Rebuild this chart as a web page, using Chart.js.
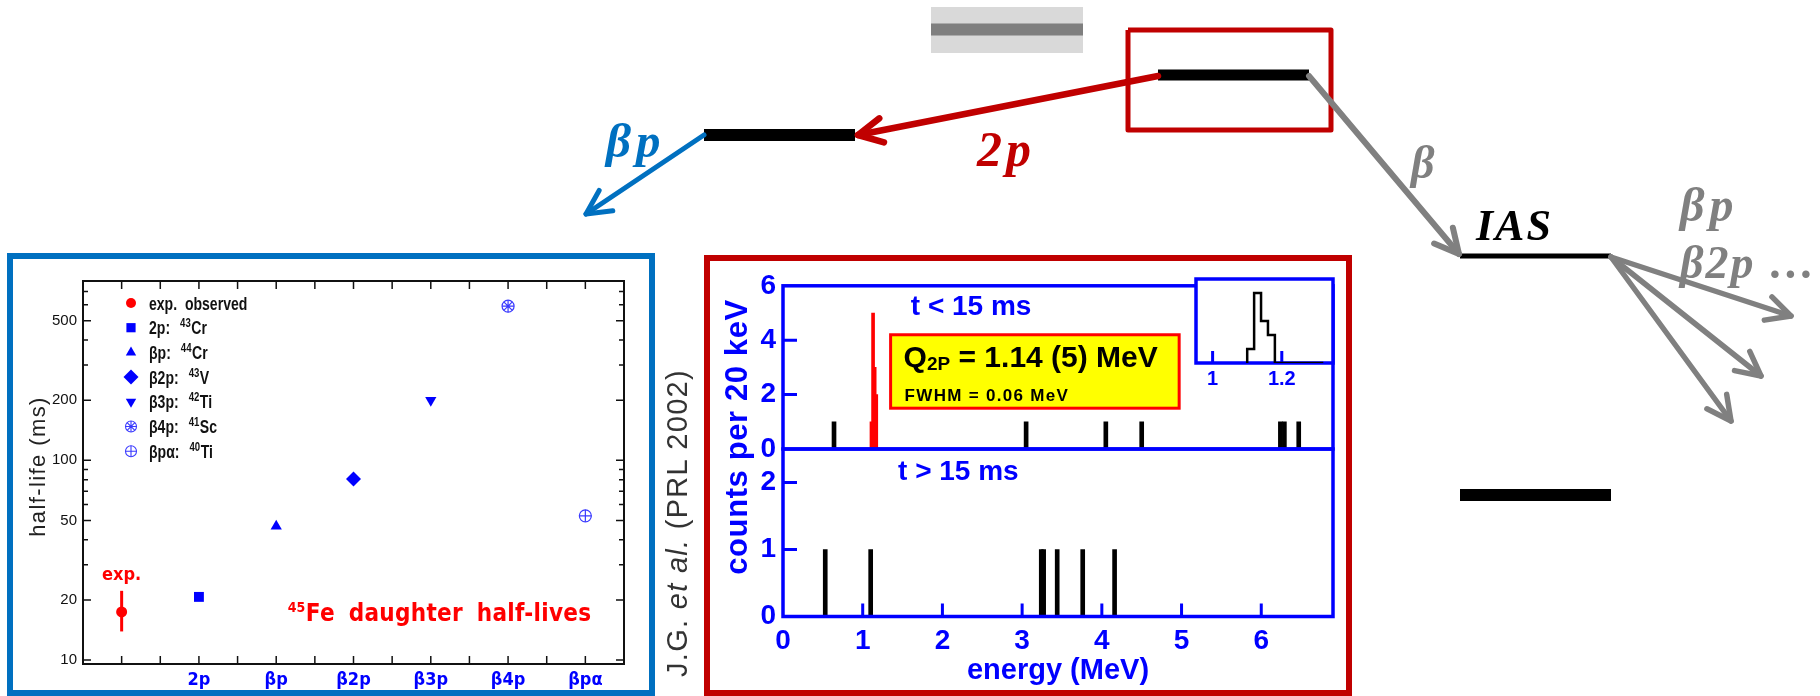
<!DOCTYPE html>
<html><head><meta charset="utf-8">
<title>45Fe two-proton decay</title>
<script src="https://cdn.jsdelivr.net/npm/chart.js@4.4.1/dist/chart.umd.min.js"></script>
<style>
html,body{margin:0;padding:0;background:#fff}
body{position:relative;width:1820px;height:696px;overflow:hidden;font-family:'Liberation Sans',Arial,sans-serif}
canvas{position:absolute;display:block}
.frame{position:absolute;box-sizing:border-box}
.rot{position:absolute;white-space:nowrap;transform:translate(-50%,-50%) rotate(-90deg);line-height:1}
</style></head><body>
<canvas id="scheme" width="1820" height="696" style="left:0;top:0"></canvas>
<div class="frame" style="left:7px;top:253px;width:648px;height:443px;border:6px solid #0070c0"></div>
<div class="frame" style="left:704px;top:255px;width:648px;height:441px;border:6px solid #c00000"></div>
<div class="rot" style="left:677px;top:523px;font-size:29px;letter-spacing:1.3px;color:#333">J.G. <i>et al.</i> (PRL 2002)</div>
<div class="rot" style="left:736px;top:437px;font-size:31px;letter-spacing:0.6px;font-weight:bold;color:#0000ff">counts per 20 keV</div>
<canvas id="halfLife" width="636" height="431" style="left:13px;top:259px"></canvas>
<canvas id="specTop" width="635" height="220" style="left:711px;top:262px"></canvas>
<canvas id="specBottom" width="635" height="270" style="left:711px;top:420px"></canvas>
<canvas id="inset" width="166" height="125" style="left:1180px;top:270px"></canvas>
<script>
// ================= DATA =================
// Left panel: 45Fe daughter half-lives (ms)
const hlCategories = ['exp.', '2p', 'βp', 'β2p', 'β3p', 'β4p', 'βpα'];
const hlValues = [17.4, 20.7, 46.8, 80.7, 200, 591, 52.7];
const hlExpError = [13.9, 22.2];
const hlYTickLabels = [10, 20, 50, 100, 200, 500];
const hlYMinorTicks = [30, 40, 60, 70, 80, 90, 300, 400, 600, 700];
const hlLegendPrefix = ['exp.  observed', '2p:', 'βp:', 'β2p:', 'β3p:', 'β4p:', 'βpα:'];
const hlLegendMass = ['', '43', '44', '43', '42', '41', '40'];
const hlLegendElement = ['', 'Cr', 'Cr', 'V', 'Ti', 'Sc', 'Ti'];

// Middle panel: energy spectra (counts per 20 keV)
const peakBins = [1.10, 1.12, 1.14, 1.16];
const peakCounts = [1, 5, 3, 2];
const earlyEnergies = [0.64, 3.05, 4.05, 4.50, 6.24, 6.29, 6.47];
const earlyCounts = [1, 1, 1, 1, 1, 1, 1];
const lateEnergies = [0.53, 1.10, 3.24, 3.27, 3.44, 3.76, 4.16];
const lateCounts = [1, 1, 1, 1, 1, 1, 1];
const energyTicks = [0, 1, 2, 3, 4, 5, 6];
const earlyCountTicks = [0, 2, 4, 6];
const lateCountTicks = [0, 1, 2];
const insetTicks = [1, 1.2];
const insetRangeEnd = 1.32;

// Decay scheme (pixel-space diagram)
const levelX1 = [704, 1158, 1460, 1460];
const levelX2 = [855, 1309, 1611, 1611];
const levelY = [135, 75, 256, 495];
const arrowFromX = [1158, 704, 1309, 1611, 1611, 1611];
const arrowFromY = [76, 135, 76, 257, 257, 257];
const arrowToX = [858, 586, 1459, 1791, 1761, 1731];
const arrowToY = [135, 214, 254, 316, 376, 421];
const schemeLabels = ['2p', 'βp', 'β', 'IAS', 'βp', 'β2p …'];
const schemeLabelX = [977, 606, 1411, 1476, 1680, 1680];
const schemeLabelY = [166, 157, 178, 240, 221, 278];

// ================= STYLES =================
const SANS = "'Liberation Sans', Arial, sans-serif";
const NARROW = "'Liberation Sans Narrow', 'Arial Narrow', 'DejaVu Sans Condensed', 'Liberation Sans', sans-serif";
const SERIF = "'Liberation Serif', 'DejaVu Serif', serif";
const BLUE = '#0000ff', RED = '#ff0000', SYMBLUE = '#3a3aff', DARKRED = '#c00000', MSBLUE = '#0070c0', GRAY = '#808080';
const baseOpts = {responsive: false, animation: false, events: [], plugins: {legend: {display: false}, tooltip: {enabled: false}}};

// ================= DECAY SCHEME =================
(function () {
  const levelWidth = [12, 11, 5, 12];
  const arrowColor = [DARKRED, MSBLUE, GRAY, GRAY, GRAY, GRAY];
  const arrowWidth = [6.5, 5, 6, 5.5, 5.5, 5.5];
  const labelColor = [DARKRED, MSBLUE, GRAY, '#000', GRAY, GRAY];
  const labelFont = ['italic bold 50px ' + SERIF, 'italic bold 49px ' + SERIF, 'italic bold 46px ' + SERIF,
                     'italic bold 44px ' + SERIF, 'italic bold 48px ' + SERIF, 'italic bold 46px ' + SERIF];
  const labelSpacing = ['4px', '5px', '0px', '2px', '5px', '2px'];
  const ds = [];
  // grey box (band) at top
  ds.push({data: [{x: 931, y: 30}, {x: 1083, y: 30}], borderColor: '#d9d9d9', borderWidth: 46, borderCapStyle: 'butt'});
  ds.push({data: [{x: 931, y: 29.5}, {x: 1083, y: 29.5}], borderColor: '#7f7f7f', borderWidth: 12, borderCapStyle: 'butt'});
  // red box
  ds.push({data: [{x: 1128, y: 30}, {x: 1331, y: 30}, {x: 1331, y: 130}, {x: 1128, y: 130}, {x: 1128, y: 30}],
           borderColor: DARKRED, borderWidth: 5, borderJoinStyle: 'round'});
  levelY.forEach((y, i) => ds.push({data: [{x: levelX1[i], y}, {x: levelX2[i], y}], borderColor: '#000', borderWidth: levelWidth[i], borderCapStyle: 'butt'}));
  arrowToX.forEach((tx, i) => {
    const fx = arrowFromX[i], fy = arrowFromY[i], ty = arrowToY[i];
    ds.push({data: [{x: fx, y: fy}, {x: tx, y: ty}], borderColor: arrowColor[i], borderWidth: arrowWidth[i], borderCapStyle: 'round'});
    const th = Math.atan2(fy - ty, fx - tx), a = 27 * Math.PI / 180, L = 27;
    ds.push({data: [{x: tx + L * Math.cos(th + a), y: ty + L * Math.sin(th + a)}, {x: tx, y: ty},
                    {x: tx + L * Math.cos(th - a), y: ty + L * Math.sin(th - a)}],
             borderColor: arrowColor[i], borderWidth: arrowWidth[i], borderCapStyle: 'round', borderJoinStyle: 'round'});
  });
  // first dataset drawn first (underneath)
  ds.forEach((d, i) => { d.showLine = true; d.pointRadius = 0; d.fill = false; d.tension = 0; d.clip = false; d.order = ds.length - i; });
  const textPlugin = {
    id: 'schemeText',
    afterDatasetsDraw(chart) {
      const {ctx, scales: {x, y}} = chart;
      ctx.save();
      ctx.textBaseline = 'alphabetic'; ctx.textAlign = 'left';
      schemeLabels.forEach((t, i) => {
        ctx.font = labelFont[i]; ctx.fillStyle = labelColor[i];
        try { ctx.letterSpacing = labelSpacing[i]; } catch (e) {}
        ctx.fillText(t, x.getPixelForValue(schemeLabelX[i]), y.getPixelForValue(schemeLabelY[i]));
      });
      ctx.restore();
    }
  };
  new Chart(document.getElementById('scheme'), {
    type: 'scatter', data: {datasets: ds},
    options: Object.assign({}, baseOpts, {layout: {padding: 0},
      scales: {x: {type: 'linear', min: 0, max: 1820, display: false}, y: {type: 'linear', min: 0, max: 696, reverse: true, display: false}}}),
    plugins: [textPlugin]
  });
})();

// ================= HALF-LIFE PANEL =================
(function () {
  const mStyle = ['circle', 'rect', 'triangle', 'rectRot', 'triangle', 'star', 'cross'];
  const mRot = [0, 0, 0, 0, 180, 0, 0];
  const mRad = [5.5, 7, 6.5, 7.5, 6.5, 6, 6];
  const mFilled = [true, true, true, true, true, false, false];
  const mColor = [RED, BLUE, BLUE, BLUE, BLUE, SYMBLUE, SYMBLUE];
  const ds = [{type: 'line', data: [{x: 0, y: hlExpError[0]}, {x: 0, y: hlExpError[1]}], borderColor: RED, borderWidth: 3, pointRadius: 0, showLine: true}];
  hlValues.forEach((v, i) => {
    ds.push({data: [{x: i, y: v}], pointStyle: mStyle[i], rotation: mRot[i], pointRadius: mRad[i],
             backgroundColor: mFilled[i] ? mColor[i] : 'rgba(0,0,0,0)', borderColor: mColor[i], borderWidth: mFilled[i] ? 0 : 1.2});
    if (!mFilled[i]) ds.push({data: [{x: i, y: v}], pointStyle: 'circle', pointRadius: mRad[i], backgroundColor: 'rgba(0,0,0,0)', borderColor: mColor[i], borderWidth: 1.2});
  });
  // condensed text helper: draw text horizontally squeezed
  function narrowText(ctx, text, x, y, sx) {
    ctx.save(); ctx.translate(x, y); ctx.scale(sx, 1); ctx.fillText(text, 0, 0); ctx.restore();
    return ctx.measureText(text).width * sx;
  }
  const decor = {
    id: 'hlDecor',
    afterDatasetsDraw(chart) {
      const {ctx, chartArea: a, scales: {x, y}} = chart;
      ctx.save();
      ctx.strokeStyle = '#111'; ctx.lineWidth = 2;
      ctx.strokeRect(a.left, a.top, a.right - a.left, a.bottom - a.top);
      ctx.lineWidth = 1.5; ctx.beginPath();
      for (let v = 0; v <= 6.001; v += 0.5) {
        const px = x.getPixelForValue(v);
        ctx.moveTo(px, a.bottom); ctx.lineTo(px, a.bottom - 8);
        ctx.moveTo(px, a.top); ctx.lineTo(px, a.top + 8);
      }
      const tk = (v, L) => { const py = y.getPixelForValue(v); ctx.moveTo(a.left, py); ctx.lineTo(a.left + L, py); ctx.moveTo(a.right, py); ctx.lineTo(a.right - L, py); };
      hlYTickLabels.forEach(v => tk(v, 8));
      hlYMinorTicks.forEach(v => tk(v, 5));
      ctx.stroke();
      // y-axis title
      ctx.save();
      ctx.translate(26, (a.top + a.bottom) / 2 - 6);
      ctx.rotate(-Math.PI / 2);
      ctx.fillStyle = '#222'; ctx.font = '22px ' + SANS; ctx.textAlign = 'center'; ctx.textBaseline = 'middle';
      try { ctx.letterSpacing = '1.4px'; } catch (e) {}
      ctx.fillText('half-life (ms)', 0, 0);
      ctx.restore();
      // legend
      const mx = a.left + 48, tx = a.left + 66;
      hlLegendPrefix.forEach((p, i) => {
        const ry = a.top + 22 + i * 24.7;
        const r = [5, 6.5, 6, 7.5, 6, 5.5, 5.5][i];
        ctx.fillStyle = mFilled[i] ? mColor[i] : 'rgba(0,0,0,0)';
        ctx.strokeStyle = mColor[i]; ctx.lineWidth = 1.1;
        Chart.helpers.drawPoint(ctx, {pointStyle: mStyle[i], rotation: mRot[i], radius: r, borderWidth: mFilled[i] ? 0 : 1.1}, mx, ry);
        if (!mFilled[i]) Chart.helpers.drawPoint(ctx, {pointStyle: 'circle', rotation: 0, radius: r, borderWidth: 1.1}, mx, ry);
        ctx.fillStyle = '#111'; ctx.textBaseline = 'alphabetic'; ctx.textAlign = 'left';
        const base = ry + 6.5;
        ctx.font = 'bold 18px ' + SANS;
        let cx = tx + narrowText(ctx, p, tx, base, 0.78);
        if (hlLegendMass[i]) {
          cx += 10;
          ctx.font = 'bold 12px ' + SANS;
          cx += narrowText(ctx, hlLegendMass[i], cx, base - 7, 0.8) + 0.5;
          ctx.font = 'bold 18px ' + SANS;
          narrowText(ctx, hlLegendElement[i], cx, base, 0.78);
        }
      });
      // annotations
      ctx.fillStyle = RED; ctx.textAlign = 'center'; ctx.textBaseline = 'middle';
      ctx.font = 'bold 18px ' + NARROW;
      ctx.fillText('exp.', x.getPixelForValue(0), y.getPixelForValue(26.5));
      ctx.textAlign = 'left'; ctx.textBaseline = 'alphabetic';
      let fx = x.getPixelForValue(2.15);
      const fy = y.getPixelForValue(17.3) + 9;
      ctx.font = 'bold 14px ' + NARROW;
      ctx.fillText('45', fx, fy - 9);
      fx += ctx.measureText('45').width + 0.5;
      ctx.font = 'bold 24px ' + NARROW;
      try { ctx.wordSpacing = '6px'; ctx.letterSpacing = '0.3px'; } catch (e) {}
      ctx.fillText('Fe daughter half-lives', fx, fy);
      ctx.restore();
    }
  };
  new Chart(document.getElementById('halfLife'), {
    type: 'scatter', data: {datasets: ds},
    options: Object.assign({}, baseOpts, {
      layout: {padding: {top: 22, right: 25, bottom: 0, left: 0}},
      scales: {
        x: {type: 'linear', min: -0.5, max: 6.5,
            afterFit(s) { s.height = 26; },
            afterBuildTicks(s) { s.ticks = [1, 2, 3, 4, 5, 6].map(v => ({value: v})); },
            grid: {display: false, drawTicks: false}, border: {display: false},
            ticks: {color: BLUE, padding: 6, autoSkip: false, maxRotation: 0, font: {family: NARROW, size: 18, weight: 'bold'},
                    callback: v => hlCategories[Math.round(v)]}},
        y: {type: 'logarithmic', min: 9.55, max: 790,
            afterFit(s) { s.width = 70; },
            afterBuildTicks(s) { s.ticks = hlYTickLabels.map(v => ({value: v})); },
            grid: {display: false, drawTicks: false}, border: {display: false},
            ticks: {color: '#111', padding: 6, autoSkip: false, font: {family: SANS, size: 15}, callback: v => String(v)}}
      }
    }),
    plugins: [decor]
  });
})();

// ================= ENERGY SPECTRA =================
const tickFont = {family: SANS, size: 28, weight: 'bold'};
function specYScale(max, tickVals) {
  return {type: 'linear', min: 0, max,
    afterFit(s) { s.width = 72; },
    afterBuildTicks(s) { s.ticks = tickVals.map(v => ({value: v})); },
    grid: {display: false, drawTicks: false}, border: {display: false},
    ticks: {color: BLUE, padding: 7, autoSkip: false, font: tickFont}};
}
function frameAndTicks(chart, yTicks, xTicks, xLen) {
  const {ctx, chartArea: a, scales: {x, y}} = chart;
  ctx.save();
  ctx.strokeStyle = BLUE; ctx.lineWidth = 3.5;
  ctx.strokeRect(a.left, a.top, a.right - a.left, a.bottom - a.top);
  ctx.lineWidth = 3; ctx.beginPath();
  yTicks.forEach(v => { const py = y.getPixelForValue(v); ctx.moveTo(a.left, py); ctx.lineTo(a.left + 14, py); });
  xTicks.forEach(v => { const px = x.getPixelForValue(v); ctx.moveTo(px, a.bottom); ctx.lineTo(px, a.bottom - xLen); });
  ctx.stroke();
  ctx.restore();
}
// upper spectrum: t < 15 ms
new Chart(document.getElementById('specTop'), {
  type: 'bar',
  data: {datasets: [
    {data: earlyEnergies.map((e, i) => ({x: e, y: earlyCounts[i]})), backgroundColor: '#000', barThickness: 4, grouped: false},
    {data: peakBins.map((b, i) => ({x: b + 0.01, y: peakCounts[i]})), backgroundColor: RED, barThickness: 3, grouped: false}
  ]},
  options: Object.assign({}, baseOpts, {
    layout: {padding: {top: 18, right: 13, bottom: 33, left: 0}},
    scales: {x: {type: 'linear', min: 0, max: 6.9, offset: false, display: false}, y: specYScale(6, earlyCountTicks)}
  }),
  plugins: [{
    id: 'topDecor',
    afterDatasetsDraw(chart) {
      frameAndTicks(chart, [2, 4], [], 0);
      const {ctx, scales: {x, y}} = chart;
      ctx.save();
      ctx.fillStyle = BLUE; ctx.font = 'bold 28px ' + SANS; ctx.textAlign = 'center'; ctx.textBaseline = 'middle';
      ctx.fillText('t < 15 ms', x.getPixelForValue(2.36), y.getPixelForValue(5.2));
      const x1 = x.getPixelForValue(1.35), x2 = x.getPixelForValue(4.97), y1 = y.getPixelForValue(4.2), y2 = y.getPixelForValue(1.5);
      ctx.fillStyle = '#ffff00'; ctx.fillRect(x1, y1, x2 - x1, y2 - y1);
      ctx.strokeStyle = RED; ctx.lineWidth = 3; ctx.strokeRect(x1, y1, x2 - x1, y2 - y1);
      ctx.fillStyle = '#000'; ctx.textAlign = 'left'; ctx.textBaseline = 'alphabetic';
      let cx = x1 + 13; const b1 = y1 + 32;
      ctx.font = 'bold 30px ' + SANS; ctx.fillText('Q', cx, b1); cx += ctx.measureText('Q').width;
      ctx.font = 'bold 19px ' + SANS; ctx.fillText('2P', cx, b1 + 3); cx += ctx.measureText('2P').width;
      ctx.font = 'bold 30px ' + SANS; ctx.fillText(' = 1.14 (5) MeV', cx, b1);
      ctx.font = 'bold 17px ' + SANS;
      try { ctx.letterSpacing = '1.3px'; } catch (e) {}
      ctx.fillText('FWHM = 0.06 MeV', x1 + 14, y1 + 66);
      ctx.restore();
    }
  }]
});
// lower spectrum: t > 15 ms
new Chart(document.getElementById('specBottom'), {
  type: 'bar',
  data: {datasets: [
    {data: lateEnergies.map((e, i) => ({x: e, y: lateCounts[i]})), backgroundColor: '#000', barThickness: 4, grouped: false}
  ]},
  options: Object.assign({}, baseOpts, {
    layout: {padding: {top: 29, right: 13, bottom: 0, left: 0}},
    scales: {
      x: {type: 'linear', min: 0, max: 6.9, offset: false,
          afterFit(s) { s.height = 73.5; },
          afterBuildTicks(s) { s.ticks = energyTicks.map(v => ({value: v})); },
          grid: {display: false, drawTicks: false}, border: {display: false},
          ticks: {color: BLUE, padding: 8, autoSkip: false, maxRotation: 0, font: tickFont},
          title: {display: true, text: 'energy (MeV)', color: BLUE, font: {family: SANS, size: 29, weight: 'bold'}, padding: {top: 0, bottom: 2}}},
      y: specYScale(2.5, lateCountTicks)
    }
  }),
  plugins: [{
    id: 'bottomDecor',
    afterDatasetsDraw(chart) {
      frameAndTicks(chart, [1, 2], [1, 2, 3, 4, 5, 6], 13);
      const {ctx, scales: {x, y}} = chart;
      ctx.save();
      ctx.fillStyle = BLUE; ctx.font = 'bold 28px ' + SANS; ctx.textAlign = 'center'; ctx.textBaseline = 'middle';
      ctx.fillText('t > 15 ms', x.getPixelForValue(2.2), y.getPixelForValue(2.15));
      ctx.restore();
    }
  }]
});
// inset: peak region zoom
(function () {
  const pts = [{x: peakBins[0], y: 0}];
  peakBins.forEach((b, i) => pts.push({x: b, y: peakCounts[i]}));
  pts.push({x: peakBins[peakBins.length - 1] + 0.02, y: 0});
  pts.push({x: insetRangeEnd, y: 0});
  new Chart(document.getElementById('inset'), {
    type: 'line',
    data: {datasets: [{data: pts, stepped: true, borderColor: '#000', borderWidth: 2.5, pointRadius: 0, fill: false}]},
    options: Object.assign({}, baseOpts, {
      layout: {padding: {top: 9, right: 13, bottom: 0, left: 16}},
      scales: {
        x: {type: 'linear', min: 0.952, max: 1.348,
            afterFit(s) { s.height = 32; },
            afterBuildTicks(s) { s.ticks = insetTicks.map(v => ({value: v})); },
            grid: {display: false, drawTicks: false}, border: {display: false},
            ticks: {color: BLUE, padding: 4, autoSkip: false, maxRotation: 0, font: {family: SANS, size: 20, weight: 'bold'}, callback: v => String(v)}},
        y: {type: 'linear', min: 0, max: 6, display: false}
      }
    }),
    plugins: [{
      id: 'insetDecor',
      beforeDatasetsDraw(chart) {
        const {ctx, chartArea: a} = chart;
        ctx.save(); ctx.fillStyle = '#fff'; ctx.fillRect(a.left, a.top, a.right - a.left, a.bottom - a.top); ctx.restore();
        frameAndTicks(chart, [], insetTicks, 12);
      }
    }]
  });
})();
</script>
</body></html>
